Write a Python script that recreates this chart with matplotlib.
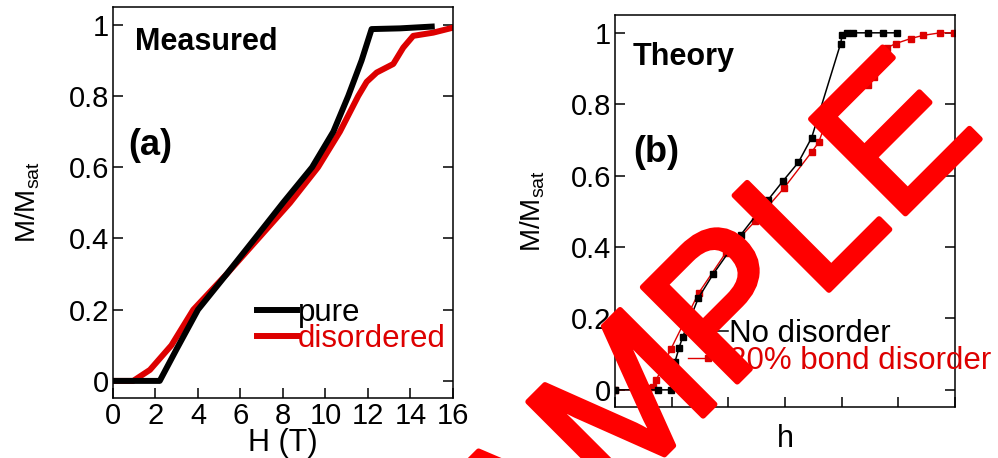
import matplotlib.pyplot as plt
import matplotlib.patheffects as pe
import numpy as np

plt.rcParams['font.family'] = ['Liberation Sans', 'DejaVu Sans']
plt.rcParams['mathtext.fontset'] = 'custom'
plt.rcParams['mathtext.rm'] = 'Liberation Sans'

RED = '#dd0000'

# (a) measured magnetisation curves
H_pure = [0, 2.2, 3.0, 4.0, 5.35, 6.68, 8.0, 9.37, 10.37, 11.07, 11.7, 12.17, 13.5, 15.0]
M_pure = [0, 0, 0.09, 0.2, 0.3, 0.4, 0.5, 0.6, 0.7, 0.8, 0.9, 0.988, 0.99, 0.995]
H_dis = [0, 0.95, 1.74, 2.75, 3.78, 5.35, 6.84, 8.33, 9.65, 10.68, 11.54, 11.94,
         12.41, 13.19, 13.66, 14.13, 15.07, 16.0]
M_dis = [0, 0, 0.031, 0.1, 0.2, 0.3, 0.4, 0.5, 0.6, 0.7, 0.8, 0.84,
         0.866, 0.89, 0.936, 0.969, 0.978, 0.992]

# (b) theory
h_clean = [0, 0.38, 0.49, 0.53, 0.565, 0.597, 0.737, 0.868, 1.112, 1.353, 1.485,
           1.618, 1.735, 1.99, 2.006, 2.044, 2.103, 2.235, 2.368, 2.485]
m_clean = [0, 0, 0, 0.079, 0.117, 0.148, 0.258, 0.325, 0.435, 0.533, 0.586,
           0.637, 0.706, 0.969, 0.995, 1.0, 1.0, 1.0, 1.0, 1.0]
h_bond = [0, 0.27, 0.294, 0.332, 0.365, 0.493, 0.738, 0.976, 1.235, 1.491, 1.735,
          1.797, 1.897, 1.956, 2.103, 2.235, 2.282, 2.374, 2.397, 2.479, 2.609,
          2.721, 2.868, 2.99]
m_bond = [0, 0, 0.005, 0.009, 0.028, 0.114, 0.271, 0.383, 0.472, 0.565, 0.666,
          0.693, 0.78, 0.811, 0.839, 0.854, 0.877, 0.941, 0.958, 0.970, 0.984,
          0.993, 1.0, 1.0]

yticks = [0, 0.2, 0.4, 0.6, 0.8, 1]
ytick_labels = ['0', '0.2', '0.4', '0.6', '0.8', '1']
Hticks = [0, 2, 4, 6, 8, 10, 12, 14, 16]

fig = plt.figure(figsize=(9.98, 4.58), dpi=100)
ax1 = fig.add_axes([0.1132, 0.131, 0.3407, 0.8537])
ax2 = fig.add_axes([0.6162, 0.1114, 0.3407, 0.8559])


def style(ax):
    for s in ax.spines.values():
        s.set_linewidth(1.1)
    ax.tick_params(direction='in', length=7, width=1.1, right=True, top=False,
                   labelsize=21, pad=3)
    ax.set_yticks(yticks)
    ax.set_yticklabels(ytick_labels)
    ax.set_ylim(-0.048, 1.05)


ax1.plot(H_dis, M_dis, color=RED, lw=4.3, label='disordered', zorder=2)
ax1.plot(H_pure, M_pure, color='black', lw=4.3, label='pure', zorder=3)
style(ax1)
ax1.set_xlim(0, 16)
ax1.set_xticks(Hticks)
ax1.set_xlabel('H (T)', fontsize=22, labelpad=-1.5)
ax1.set_ylabel(r'M/M$_{\mathregular{sat}}$', fontsize=20)
ax1.yaxis.set_label_coords(-0.21, 0.5)
ax1.text(0.065, 0.89, 'Measured', transform=ax1.transAxes, fontsize=22,
         fontweight='bold', va='baseline')
ax1.text(0.044, 0.621, '(a)', transform=ax1.transAxes, fontsize=26,
         fontweight='bold', va='baseline')
hs, ls = ax1.get_legend_handles_labels()
leg1 = ax1.legend(hs[::-1], ls[::-1], loc='upper left', bbox_to_anchor=(0.4235, 0.257),
                  frameon=False, fontsize=22.5, handlelength=1.28, handletextpad=0.02,
                  borderpad=0, borderaxespad=0, labelspacing=-0.1)
for t, c in zip(leg1.get_texts(), ['black', RED]):
    t.set_color(c)

ax2.plot(h_clean, m_clean, color='black', lw=1.1, marker='s', ms=3.8,
         label='No disorder', zorder=3)
ax2.plot(h_bond, m_bond, color=RED, lw=1.0, marker='s', ms=3.8,
         label='20% bond disorder', zorder=2)
style(ax2)
ax2.set_xlim(0, 3)
ax2.set_xticks(np.arange(0, 3.01, 0.5))
ax2.set_xticklabels([])
ax2.set_xlabel('h', fontsize=22, labelpad=9.5)
ax2.set_ylabel(r'M/M$_{\mathregular{sat}}$', fontsize=20)
ax2.yaxis.set_label_coords(-0.2, 0.5)
ax2.text(0.053, 0.872, 'Theory', transform=ax2.transAxes, fontsize=22,
         fontweight='bold', va='baseline')
ax2.text(0.053, 0.625, '(b)', transform=ax2.transAxes, fontsize=26,
         fontweight='bold', va='baseline')
leg2 = ax2.legend(loc='upper left', bbox_to_anchor=(0.215, 0.225), frameon=False,
                  fontsize=22.5, handlelength=1.28, handletextpad=0.02, borderpad=0,
                  borderaxespad=0, labelspacing=-0.1, numpoints=1)
for t, c in zip(leg2.get_texts(), ['black', RED]):
    t.set_color(c)

# watermark
fig.text(428 / 998, 1 - 691 / 458, 'SAMPLE', fontsize=140, color='#ff0000',
         rotation=45, ha='left', va='baseline', rotation_mode='anchor', zorder=10,
         path_effects=[pe.withStroke(linewidth=4, foreground='#ff0000')])

fig.savefig('out.png', dpi=100)
